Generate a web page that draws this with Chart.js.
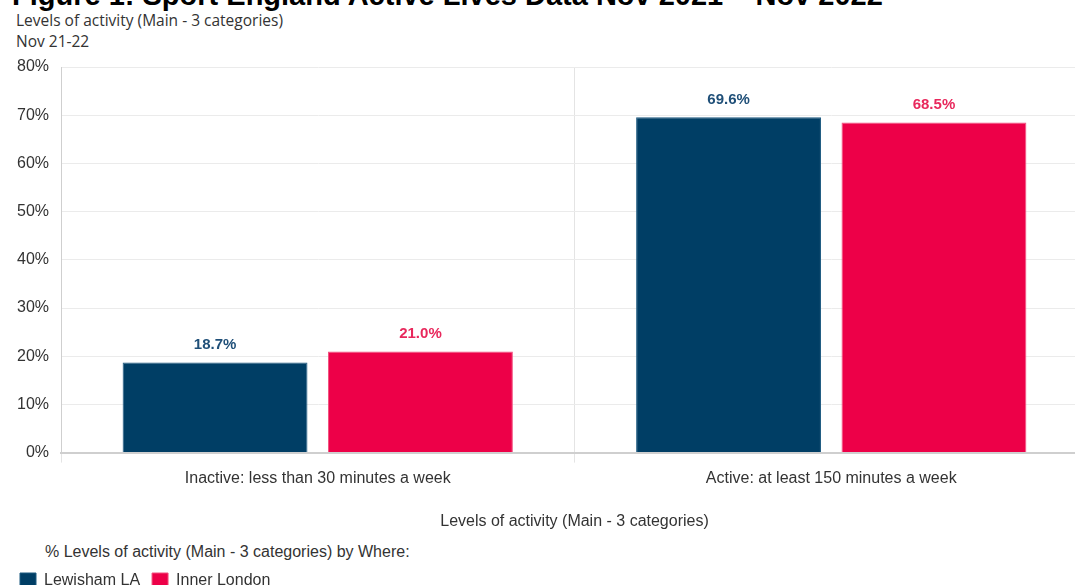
<!DOCTYPE html>
<html>
<head>
<meta charset="utf-8">
<script src="https://cdn.jsdelivr.net/npm/chart.js@4/dist/chart.umd.min.js"></script>
<style>
    html, body { margin: 0; padding: 0; background: #fff; overflow: hidden; width: 1075px; height: 585px; }
    #figTitle {
        position: absolute; left: 12px; top: -19px; white-space: nowrap;
        font: bold 29px "Liberation Sans", Arial, sans-serif; color: #000; line-height: 29px;
    }
    .head { position: absolute; left: 16px; font: 15.5px "Open Sans", sans-serif; color: #333; line-height: 20px; }
    #legendTitle { position: absolute; left: 45px; top: 542px; font: 16px "Liberation Sans", Arial, sans-serif; color: #333; line-height: 20px; }
    #wrap { position: absolute; left: 0; top: 0; width: 1088px; height: 599px; }
</style>
</head>
<body>
<div id="figTitle">Figure 1: Sport England Active Lives Data Nov 2021 – Nov 2022</div>
<div class="head" style="top:10px">Levels of activity (Main - 3 categories)</div>
<div class="head" style="top:31px">Nov 21-22</div>
<div id="legendTitle">% Levels of activity (Main - 3 categories) by Where:</div>
<div id="wrap"><canvas id="activityChart"></canvas></div>
<script>
// Sport England Active Lives - levels of activity, Nov 21-22

const categories = ['Inactive: less than 30 minutes a week', 'Active: at least 150 minutes a week'];
const lewisham = [18.7, 69.6];
const innerLondon = [21.0, 68.5];
const yTicks = [0, 10, 20, 30, 40, 50, 60, 70, 80];

const blue = '#003e65';
const red = '#ed0048';
const tickFont = { family: '"Liberation Sans", Arial, sans-serif', size: 16 };

// Draws the bold value labels above each bar
const valueLabels = {
    id: 'valueLabels',
    afterDatasetsDraw(chart) {
        const ctx = chart.ctx;
        ctx.save();
        ctx.font = 'bold 15px "Liberation Sans", Arial, sans-serif';
        ctx.textAlign = 'center';
        ctx.textBaseline = 'bottom';
        chart.data.datasets.forEach((ds, i) => {
            ctx.fillStyle = ds.labelColor;
            chart.getDatasetMeta(i).data.forEach((bar, j) => {
                ctx.fillText(ds.data[j].toFixed(1) + '%', bar.x, bar.y - 10);
            });
        });
        ctx.restore();
    },
};

new Chart(document.getElementById('activityChart'), {
    type: 'bar',
    data: {
        labels: categories,
        datasets: [
            {
                label: 'Lewisham LA',
                data: lewisham,
                backgroundColor: blue,
                borderColor: '#1d5a80',
                borderWidth: 1,
                labelColor: '#1f4f78',
            },
            {
                label: 'Inner London',
                data: innerLondon,
                backgroundColor: red,
                borderColor: '#f2507f',
                borderWidth: 1,
                labelColor: '#e8285c',
            },
        ],
    },
    options: {
        responsive: true,
        maintainAspectRatio: false,
        animation: false,
        layout: { padding: { top: 67, left: 8, right: 0, bottom: 0 } },
        plugins: {
            legend: {
                position: 'bottom',
                align: 'start',
                labels: {
                    boxWidth: 16,
                    boxHeight: 16,
                    color: '#333',
                    font: tickFont,
                    padding: 12,
                },
            },
            tooltip: { enabled: false },
        },
        scales: {
            x: {
                grid: { color: '#e4e4e4', tickLength: 10, offset: true },
                border: { color: '#cfcfcf', width: 2 },
                ticks: { color: '#333', font: tickFont, padding: 6 },
                title: {
                    display: true,
                    text: 'Levels of activity (Main - 3 categories)',
                    color: '#333',
                    font: tickFont,
                    padding: { top: 18, bottom: 30 },
                },
            },
            y: {
                min: 0,
                max: 80,
                afterBuildTicks: (axis) => {
                    axis.ticks = yTicks.map((v) => ({ value: v }));
                },
                afterFit: (axis) => {
                    axis.width = 53;
                },
                grid: { color: '#ebebeb', drawTicks: false },
                border: { color: '#cfcfcf', width: 1 },
                ticks: {
                    color: '#333',
                    font: tickFont,
                    padding: 12,
                    callback: (v) => v + '%',
                },
            },
        },
    },
    plugins: [valueLabels],
});
</script>
</body>
</html>
